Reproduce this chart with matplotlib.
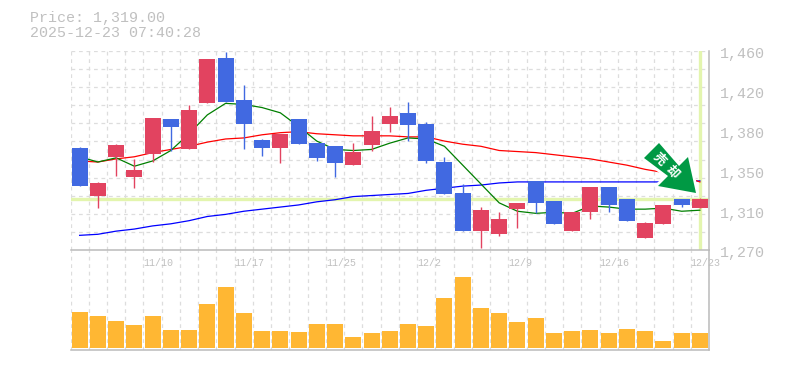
import matplotlib
matplotlib.use("Agg")
import matplotlib.pyplot as plt
from matplotlib.patches import Polygon
from matplotlib.transforms import ScaledTranslation
import numpy as np

W, H = 785, 370

# precios
opens = [1367, 1322, 1359, 1340, 1362, 1395, 1366, 1410, 1453, 1413, 1375, 1367,
         1395, 1372, 1369, 1351, 1370, 1390, 1401, 1390, 1354, 1324, 1288, 1285,
         1309, 1336, 1317, 1288, 1306, 1330, 1319, 1281, 1295, 1319, 1310]
closes = [1331, 1334, 1370, 1346, 1396, 1387, 1404, 1452, 1411, 1390, 1367, 1381,
          1371, 1358, 1353, 1364, 1384, 1398, 1389, 1355, 1323, 1288, 1308, 1300,
          1315, 1315, 1295, 1306, 1330, 1313, 1298, 1296, 1313, 1313, 1319]
highs = [1368, 1335, 1371, 1357, 1396, 1395, 1408, 1452, 1459, 1428, 1376, 1381,
         1395, 1372, 1369, 1372, 1398, 1407, 1411, 1392, 1359, 1333, 1311, 1306,
         1315, 1336, 1317, 1306, 1330, 1330, 1319, 1297, 1313, 1319, 1320]
lows = [1331, 1310, 1341, 1329, 1354, 1365, 1366, 1410, 1411, 1366, 1360, 1353,
        1371, 1355, 1340, 1351, 1365, 1383, 1374, 1353, 1323, 1288, 1272, 1283,
        1291, 1305, 1295, 1288, 1300, 1306, 1298, 1281, 1295, 1311, 1310]

ma_short = [1359, 1354, 1358, 1350, 1355, 1365, 1381, 1399, 1410, 1409, 1406, 1401,
            1388, 1374, 1366, 1365, 1366, 1372, 1377, 1376, 1369, 1351, 1333, 1315,
            1307, 1305, 1306, 1305, 1312, 1311, 1309, 1309, 1310, 1307, 1308]
ma_mid = [1355, 1354, 1357, 1359, 1363, 1366, 1369, 1373, 1376, 1377, 1380, 1382,
          1383, 1381, 1380, 1379, 1379, 1379, 1378, 1378, 1374, 1371, 1369, 1365,
          1364, 1363, 1361, 1359, 1357, 1354, 1351, 1347, 1344, 1341, 1335]
ma_long = [1284, 1285, 1288, 1290, 1293, 1295, 1298, 1302, 1304, 1307, 1309, 1311,
           1313, 1316, 1318, 1321, 1322, 1323, 1324, 1327, 1329, 1331, 1332, 1334,
           1335, 1335, 1335, 1335, 1335, 1335, 1335, 1335, 1335, 1335, 1336]

volumes = [36, 32, 27, 23, 32, 18, 18, 44, 61, 35, 17, 17, 16, 24, 24, 11, 15, 17,
           24, 22, 50, 71, 40, 35, 26, 30, 15, 17, 18, 15, 19, 17, 7, 15, 15]

date_pos = [4, 9, 14, 19, 24, 29, 34]
date_labels = ["11/10", "11/17", "11/25", "12/2", "12/9", "12/16", "12/23"]
price_ticks = [1270, 1308, 1346, 1384, 1422, 1460]
price_labels = ["1,270", "1,310", "1,350", "1,380", "1,420", "1,460"]
last_price = 1319

UP = "#E24360"
DOWN = "#4169E1"
GRID = "#DDDDDD"
AXIS = "#BBBBBB"
CROSS = "#E3F5AE"
TEXT = "#C0C0C0"
MONO = "Liberation Mono"

x = np.arange(len(opens))
opens_a = np.array(opens)
closes_a = np.array(closes)
colors = [UP if c >= o else DOWN for o, c in zip(opens, closes)]

fig = plt.figure(figsize=(W / 100, H / 100), dpi=100)
ax = fig.add_axes([70.5 / W, 1 - 250 / H, 638.5 / W, 199 / H])
ax_vol = fig.add_axes([70.5 / W, 1 - 350 / H, 638.5 / W, 100 / H])
ax.set_zorder(2)
ax_vol.patch.set_visible(False)

edges = np.arange(len(x) + 1) - 0.5
for a in (ax, ax_vol):
    a.set_xlim(-0.5, len(x) - 0.5)
    a.set_axisbelow(True)
    for e in edges:
        a.axvline(e, color=GRID, lw=0.9, ls=(0, (3, 3)), zorder=0)
    a.spines["left"].set_visible(False)
    a.spines["top"].set_visible(False)
    a.spines["right"].set_color(AXIS)
    a.spines["bottom"].set_color(AXIS)
    a.spines["right"].set_linewidth(1.1)
    a.spines["bottom"].set_linewidth(1.1)

# parte de precios
ax.set_ylim(1270, 1460)
for g in np.linspace(1270, 1460, 12)[1:]:
    ax.axhline(g, color=GRID, lw=0.9, ls=(0, (3, 3)), zorder=0)

ax.axhline(last_price, color=CROSS, lw=2.4, zorder=1)
ax.axvline(x[-1], color=CROSS, lw=2.4, zorder=1)

ax.plot(x, ma_long, color="#0000FF", lw=0.9, zorder=2)
ax.plot(x, ma_mid, color="#FF0000", lw=0.9, zorder=2)
ax.plot(x, ma_short, color="#007F00", lw=0.9, zorder=2)

ax.vlines(x, lows, highs, colors=colors, lw=1.0, zorder=3)
ax.bar(x, np.abs(closes_a - opens_a), bottom=np.minimum(opens_a, closes_a),
       width=0.877, color=colors, zorder=4)

ax.set_xticks(edges[date_pos])
ax.set_xticklabels(date_labels, ha="left", family=MONO, fontsize=7.2, color=TEXT)
ax.tick_params(axis="x", length=0, pad=5.5)
ax.yaxis.tick_right()
ax.set_yticks(price_ticks)
ax.set_yticklabels(price_labels, family=MONO, fontsize=10.8, color=TEXT)
ax.tick_params(axis="y", length=0, pad=8)
for lab in ax.get_yticklabels():
    lab.set_transform(lab.get_transform() + ScaledTranslation(0, -1.4 / 72, fig.dpi_scale_trans))

# volumen
ax_vol.set_ylim(-2, 98)
ax_vol.bar(x, volumes, width=0.877, color="#FFB733", zorder=2)
ax_vol.set_xticks([])
ax_vol.set_yticks([])

# flecha de senal, con borde blanco que tapa las medias
arrow = [(659, 143), (679, 166), (688, 157), (696, 193), (658, 186), (668, 176), (644, 158)]
arrow = [(px / W, 1 - py / H) for px, py in arrow]
fig.add_artist(Polygon(arrow, closed=True, facecolor="white", edgecolor="white", lw=4,
                       joinstyle="round", transform=fig.transFigure, zorder=5))
fig.add_artist(Polygon(arrow, closed=True, facecolor="#009944", edgecolor="none",
                       transform=fig.transFigure, zorder=6))
for glyph, gx, gy in [("売", 659, 159), ("却", 672, 172)]:
    fig.text(gx / W, 1 - gy / H, glyph, family=["Noto Sans CJK JP", "DejaVu Sans"], fontsize=9,
             fontweight="bold", color="white", rotation=-45, ha="center", va="center", zorder=7)

fig.text(30 / W, 1 - 18 / H, "Price: 1,319.00", family=MONO, fontsize=10.8, color=TEXT, va="center")
fig.text(30 / W, 1 - 33 / H, "2025-12-23 07:40:28", family=MONO, fontsize=10.8, color=TEXT, va="center")

fig.savefig("out.png", dpi=100)
plt.close(fig)
